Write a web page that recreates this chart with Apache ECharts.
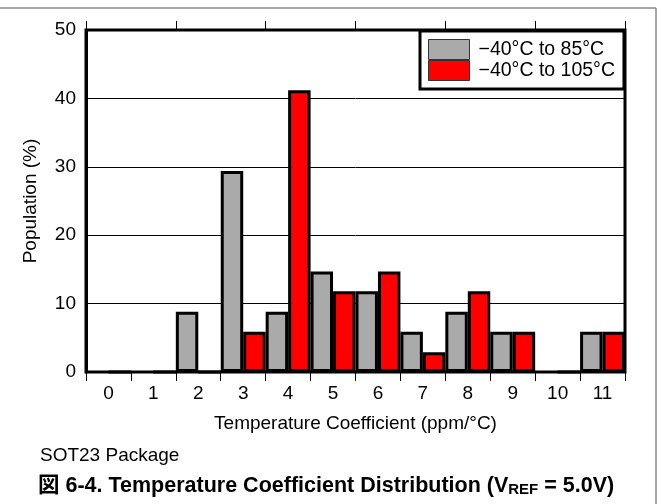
<!DOCTYPE html>
<html>
<head>
<meta charset="utf-8">
<script src="https://cdn.jsdelivr.net/npm/echarts@6/dist/echarts.min.js"></script>
<style>
html,body{margin:0;padding:0;background:#fff;}
#chart{width:658px;height:504px;}
</style>
</head>
<body>
<div id="chart"></div>
<script>
const categories = ['0','1','2','3','4','5','6','7','8','9','10','11'];
const seriesNames = ['\u221240\u00b0C to 85\u00b0C', '\u221240\u00b0C to 105\u00b0C'];
const grayValues = [0, 0, 8.8, 29.4, 8.8, 14.7, 11.8, 5.9, 8.8, 5.9, 0, 5.9];
const redValues  = [0, 0, 0, 5.9, 41.2, 11.8, 14.7, 2.9, 11.8, 5.9, 0, 5.9];
const yMin = 0, yMax = 50, yStep = 10;
const xName = 'Temperature Coefficient (ppm/\u00b0C)';
const yName = 'Population (%)';
const noteText = 'SOT23 Package';

const FONT = '"Liberation Sans", Arial, "Noto Sans CJK JP", sans-serif';
const chart = echarts.init(document.getElementById('chart'), null, {renderer: 'canvas'});

const grayData = grayValues.map(v => v === 0 ? {value: v, itemStyle: {borderWidth: 0}} : v);

chart.setOption({
  animation: false,
  backgroundColor: '#fff',
  textStyle: {fontFamily: FONT},
  grid: {left: 86, top: 30, right: 33, bottom: 132, show: true, borderColor: '#000', borderWidth: 3, backgroundColor: 'transparent'},
  legend: {
    orient: 'vertical', left: 420, top: 31,
    itemWidth: 41, itemHeight: 20, itemGap: 0,
    padding: [8, 9, 8, 8],
    backgroundColor: '#fff', borderColor: '#000', borderWidth: 3,
    icon: 'rect',
    itemStyle: {borderWidth: 1, borderColor: '#333'},
    textStyle: {fontFamily: FONT, fontSize: 19.5, color: '#000', lineHeight: 20, padding: [0, 0, 0, 4]},
    data: seriesNames
  },
  xAxis: [{
    type: 'category', data: categories, position: 'bottom',
    axisLine: {show: true, lineStyle: {color: '#000', width: 2}},
    axisTick: {show: true, inside: false, length: 9, alignWithLabel: false, lineStyle: {color: '#000', width: 1}},
    axisLabel: {fontFamily: FONT, fontSize: 19, color: '#000', margin: 12},
    name: xName, nameLocation: 'middle', nameGap: 42,
    nameTextStyle: {fontFamily: FONT, fontSize: 19, color: '#000'},
    splitLine: {show: false}
  }, {
    type: 'value', position: 'top', min: 0, max: 12, interval: 2,
    axisLine: {show: false},
    axisTick: {show: true, inside: false, length: 9, lineStyle: {color: '#000', width: 1}},
    axisLabel: {show: false}, splitLine: {show: false}
  }],
  yAxis: {
    type: 'value', min: yMin, max: yMax, interval: yStep,
    axisLine: {show: true, lineStyle: {color: '#000', width: 3}},
    axisTick: {show: false},
    axisLabel: {fontFamily: FONT, fontSize: 19, color: '#000', margin: 10},
    splitLine: {show: true, lineStyle: {color: '#000', width: 1}},
    name: yName, nameLocation: 'middle', nameGap: 46,
    nameTextStyle: {fontFamily: FONT, fontSize: 19, color: '#000'}
  },
  series: [{
    name: seriesNames[0], type: 'bar', data: grayData, xAxisIndex: 0,
    barGap: '0%', barCategoryGap: '0%',
    itemStyle: {color: '#aaaaaa', borderColor: '#000', borderWidth: 3}
  }, {
    name: seriesNames[1], type: 'bar', data: redValues, xAxisIndex: 0,
    barGap: '0%', barCategoryGap: '0%',
    itemStyle: {color: '#ff0000', borderColor: '#000', borderWidth: 3}
  }],
  graphic: [
    {type: 'line', shape: {x1: 0, y1: 8, x2: 656, y2: 8}, style: {stroke: '#888', lineWidth: 1.5}},
    {type: 'line', shape: {x1: 656, y1: 8, x2: 656, y2: 504}, style: {stroke: '#888', lineWidth: 1.5}},
    {type: 'text', left: 40, top: 446, style: {text: noteText, fontFamily: FONT, fontSize: 19, fill: '#000'}},
    {type: 'text', left: 38, top: 475, style: {
      text: '{b|\u56f3 6-4. Temperature Coefficient Distribution (V}{s|REF}{b| = 5.0V)}',
      fontFamily: FONT,
      rich: {
        b: {fontFamily: FONT, fontSize: 21.5, fontWeight: 'bold', fill: '#000', color: '#000'},
        s: {fontFamily: FONT, fontSize: 15, fontWeight: 'bold', fill: '#000', color: '#000', padding: [9, 0, 0, 0]}
      }
    }}
  ]
});
</script>
</body>
</html>
